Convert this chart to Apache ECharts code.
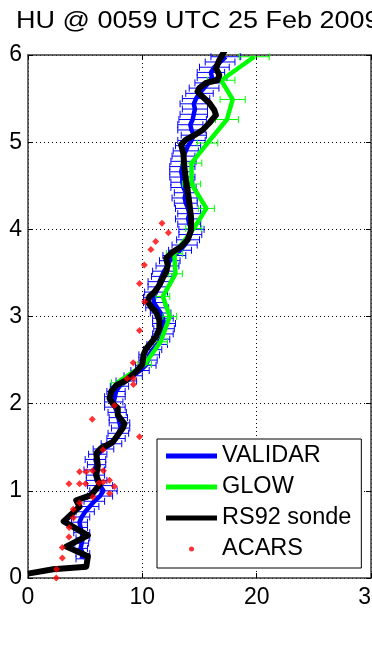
<!DOCTYPE html>
<html>
<head>
<meta charset="utf-8">
<script src="https://cdn.jsdelivr.net/npm/echarts@6/dist/echarts.min.js"></script>
<style>
  html, body { margin: 0; padding: 0; background: #fff; }
  #chart { width: 372px; height: 652px; }
</style>
</head>
<body>
<div id="chart"></div>
<script>
// Water vapour mixing ratio profiles (g/kg) against altitude (km)
const titleText = 'HU @ 0059 UTC 25 Feb 2009';
const xTickStep = 10;
const yTickStep = 1;

// VALIDAR lidar retrieval
const validarAlt = [0.22, 0.28, 0.34, 0.40, 0.46, 0.52, 0.58, 0.64, 0.70, 0.76, 0.82, 0.88, 0.94, 1.00, 1.06, 1.12,
  1.18, 1.24, 1.30, 1.36, 1.42, 1.48, 1.54, 1.60, 1.66, 1.72, 1.78, 1.84, 1.90, 1.96, 2.02, 2.08, 2.14, 2.20,
  2.26, 2.32, 2.38, 2.44, 2.50, 2.56, 2.62, 2.68, 2.74, 2.80, 2.86, 2.92, 2.98, 3.04, 3.10, 3.16, 3.22, 3.28,
  3.34, 3.40, 3.46, 3.52, 3.58, 3.64, 3.70, 3.76, 3.82, 3.88, 3.94, 4.00, 4.06, 4.12, 4.18, 4.24, 4.30, 4.36,
  4.42, 4.48, 4.54, 4.60, 4.66, 4.72, 4.78, 4.84, 4.90, 4.96, 5.02, 5.08, 5.14, 5.20, 5.26, 5.32, 5.38, 5.44,
  5.50, 5.56, 5.62, 5.68, 5.74, 5.80, 5.86, 5.92, 5.98];
const validarHum = [4.7, 4.8, 4.6, 4.7, 4.8, 4.7, 4.6, 4.5, 4.7, 5.0, 5.4, 5.8, 6.3, 6.6, 6.3, 6.0,
  5.9, 5.8, 6.0, 5.9, 6.1, 6.6, 7.3, 7.7, 7.9, 8.1, 8.0, 7.9, 7.8, 7.6, 7.5, 7.6, 7.7, 8.0,
  8.6, 9.2, 9.8, 10.3, 10.5, 10.6, 10.9, 11.3, 11.6, 11.8, 11.9, 11.9, 11.8, 11.6, 11.3, 11.0, 11.0, 11.2,
  11.4, 11.5, 11.7, 11.9, 12.2, 12.4, 12.8, 13.3, 13.7, 14.0, 14.2, 14.3, 14.1, 14.0, 14.1, 14.0, 13.8, 13.7,
  13.8, 13.6, 13.5, 13.5, 13.4, 13.5, 13.6, 13.6, 13.8, 14.0, 14.3, 14.5, 14.3, 14.2, 14.4, 14.5, 14.6, 14.5,
  14.7, 15.0, 15.4, 15.8, 16.1, 16.0, 16.3, 16.8, 17.3];
const validarErr = [0.5, 0.6, 0.6, 0.6, 0.6, 0.7, 0.6, 0.7, 0.7, 0.8, 0.8, 0.9, 1.1, 1.2, 1.1, 0.9,
  0.8, 0.9, 0.8, 0.9, 0.8, 0.9, 0.9, 0.8, 0.9, 0.8, 0.9, 0.8, 0.8, 0.9, 0.8, 0.9, 0.8, 0.8,
  0.9, 0.8, 0.8, 0.9, 0.8, 0.9, 0.8, 0.9, 0.8, 0.9, 0.9, 1.0, 0.9, 0.9, 1.0, 0.9, 0.9, 1.0,
  0.9, 1.0, 0.9, 1.0, 1.0, 0.9, 1.0, 1.0, 1.1, 1.0, 1.0, 1.1, 1.0, 1.1, 1.0, 1.1, 1.0, 1.1,
  1.0, 1.1, 1.0, 1.1, 1.0, 1.1, 1.1, 1.0, 1.1, 1.1, 1.2, 1.1, 1.2, 1.1, 1.2, 1.2, 1.1, 1.2,
  1.2, 1.2, 1.3, 1.2, 1.3, 1.2, 1.3, 1.3, 1.3];

// GLOW lidar retrieval
const glowAlt = [2.24, 2.45, 2.71, 3.00, 3.23, 3.49, 3.72, 4.01, 4.24, 4.52, 4.76, 4.99, 5.26, 5.49, 5.71, 5.98];
const glowHum = [7.8, 10.2, 11.6, 12.4, 11.8, 12.9, 12.8, 14.5, 15.6, 14.3, 14.3, 15.7, 17.4, 17.9, 16.9, 19.8];
const glowErr = [0.5, 0.6, 0.6, 0.6, 0.6, 0.6, 0.7, 0.7, 0.7, 0.8, 0.9, 0.9, 1.0, 1.1, 1.2, 1.3];

// RS92 radiosonde
const sondeHum = [0.0, 2.2, 5.1, 5.24, 3.35, 5.24, 3.12, 4.51, 4.22, 5.53, 6.26, 5.97, 6.11, 5.97, 6.40, 7.42,
  8.29, 8.44, 7.85, 7.85, 7.42, 7.13, 7.28, 7.71, 8.59, 9.46, 10.0, 10.1, 10.33, 10.77, 11.2, 11.49, 11.49,
  11.2, 10.77, 10.47, 10.62, 11.06, 11.49, 11.78, 12.08, 12.22, 12.08, 12.65, 13.39, 13.96, 14.26, 14.26,
  14.11, 13.96, 13.82, 13.67, 13.59, 13.39, 13.82, 14.55, 15.27, 15.86, 16.44, 16.29, 15.86, 15.27, 14.83,
  14.98, 15.57, 16.58, 16.73, 16.44, 16.73, 17.2];
const sondeAlt = [0.05, 0.10, 0.13, 0.25, 0.36, 0.49, 0.65, 0.82, 0.89, 0.95, 1.07, 1.18, 1.29, 1.43, 1.49, 1.56,
  1.72, 1.77, 1.87, 1.95, 2.00, 2.06, 2.14, 2.21, 2.27, 2.37, 2.45, 2.56, 2.63, 2.70, 2.77, 2.86, 2.96,
  3.05, 3.11, 3.17, 3.23, 3.28, 3.36, 3.44, 3.51, 3.59, 3.67, 3.74, 3.80, 3.88, 3.99, 4.14,
  4.30, 4.45, 4.56, 4.72, 4.87, 4.97, 5.03, 5.08, 5.14, 5.22, 5.31, 5.37, 5.45, 5.52, 5.58,
  5.62, 5.68, 5.71, 5.77, 5.85, 5.94, 6.05];

// ACARS aircraft reports
const acarsHum = [2.47, 2.5, 3.0, 3.0, 3.58, 3.6, 3.97, 3.95, 4.51, 5.67, 7.13, 7.56, 3.58, 4.51, 5.04, 6.2,
  6.6, 7.13, 4.51, 5.1, 5.64, 6.6, 6.56, 9.75, 5.62, 7.56, 9.22, 8.67, 9.22, 9.2, 9.75, 10.2, 9.75,
  10.18, 10.75, 11.17, 12.28, 11.72];
const acarsAlt = [0.00, 0.10, 0.23, 0.35, 0.47, 0.58, 0.69, 0.79, 0.86, 0.93, 0.97, 1.05, 1.08, 1.08, 1.08, 1.09,
  1.10, 1.12, 1.22, 1.22, 1.23, 1.23, 1.47, 1.62, 1.82, 1.98, 2.22, 2.29, 2.29, 2.47, 2.84, 3.17, 3.38,
  3.59, 3.77, 3.86, 3.96, 4.07];

const FONT = '"Liberation Sans", Arial, Helvetica, sans-serif';
const BLUE = '#0000ff', GREEN = '#00ff00', BLACK = '#000000', RED = '#ff0000';

const pairs = (xs, ys) => xs.map((x, i) => [x, ys[i]]);
const bars = (alt, hum, err) => alt.map((a, i) => [hum[i] - err[i], hum[i] + err[i], a]);

// horizontal error bar with end caps
function errorBar(color) {
  return function (params, api) {
    const a = api.coord([api.value(0), api.value(2)]);
    const b = api.coord([api.value(1), api.value(2)]);
    const cap = 3.5;
    const style = { stroke: color, lineWidth: 1, fill: null };
    return {
      type: 'group',
      children: [
        { type: 'line', shape: { x1: a[0], y1: a[1], x2: b[0], y2: b[1] }, style },
        { type: 'line', shape: { x1: a[0], y1: a[1] - cap, x2: a[0], y2: a[1] + cap }, style },
        { type: 'line', shape: { x1: b[0], y1: b[1] - cap, x2: b[0], y2: b[1] + cap }, style }
      ]
    };
  };
}

const axisLineStyle = { color: '#3a3a3a', width: 1.5 };
const tickStyle = { show: true, inside: true, length: 5, lineStyle: { color: '#000', width: 1 } };
const gridLineStyle = { type: [1, 3], color: '#000', width: 1 };
const labelStyle = { color: '#000', fontSize: 23, fontFamily: FONT, hideOverlap: false, showMinLabel: true, showMaxLabel: true };

const chart = echarts.init(document.getElementById('chart'), null, { renderer: 'canvas' });
chart.setOption({
  animation: false,
  backgroundColor: '#fff',
  grid: { left: 28, right: 1, top: 55, bottom: 74, containLabel: false, outerBoundsMode: 'none' },
  graphic: [{
    type: 'text', x: 16, y: 9, scaleX: 1.125, z: 100,
    style: { text: titleText, font: '24px ' + FONT, fill: '#000', verticalAlign: 'top', align: 'left' }
  }],
  xAxis: [
    {
      type: 'value', position: 'bottom', min: 0, max: 30, interval: xTickStep,
      axisLine: { show: true, onZero: false, lineStyle: axisLineStyle },
      axisTick: tickStyle,
      axisLabel: Object.assign({ margin: 8 }, labelStyle),
      splitLine: { show: true, lineStyle: gridLineStyle }
    },
    {
      type: 'value', position: 'top', min: 0, max: 30, interval: xTickStep,
      axisLine: { show: true, onZero: false, lineStyle: axisLineStyle },
      axisTick: tickStyle, axisLabel: { show: false }, splitLine: { show: false }
    }
  ],
  yAxis: [
    {
      type: 'value', position: 'left', min: 0, max: 6, interval: yTickStep,
      axisLine: { show: true, onZero: false, lineStyle: axisLineStyle },
      axisTick: tickStyle,
      axisLabel: Object.assign({ margin: 6 }, labelStyle),
      splitLine: { show: true, lineStyle: gridLineStyle }
    },
    {
      type: 'value', position: 'right', min: 0, max: 6, interval: yTickStep,
      axisLine: { show: true, onZero: false, lineStyle: axisLineStyle },
      axisTick: tickStyle, axisLabel: { show: false }, splitLine: { show: false }
    }
  ],
  legend: {
    orient: 'vertical', left: 157, top: 439,
    data: [
      { name: 'VALIDAR', icon: 'rect' },
      { name: 'GLOW', icon: 'rect' },
      { name: 'RS92 sonde', icon: 'rect' },
      { name: 'ACARS', icon: 'circle' }
    ],
    itemWidth: 51, itemHeight: 5, itemGap: 7,
    padding: [5, 10, 7, 9],
    backgroundColor: '#fff', borderColor: '#000', borderWidth: 1, borderRadius: 0,
    textStyle: { fontSize: 23.5, fontFamily: FONT, color: '#000', lineHeight: 24 },
    selectedMode: false
  },
  series: [
    {
      name: 'VALIDAR error', type: 'custom', renderItem: errorBar(BLUE),
      data: bars(validarAlt, validarHum, validarErr), encode: { x: [0, 1], y: 2 }, z: 2, silent: true
    },
    {
      name: 'VALIDAR', type: 'line', data: pairs(validarHum, validarAlt), showSymbol: false,
      lineStyle: { color: BLUE, width: 4.5 }, itemStyle: { color: BLUE }, z: 3
    },
    {
      name: 'GLOW error', type: 'custom', renderItem: errorBar(GREEN),
      data: bars(glowAlt, glowHum, glowErr), encode: { x: [0, 1], y: 2 }, z: 4, silent: true
    },
    {
      name: 'GLOW', type: 'line', data: pairs(glowHum, glowAlt), showSymbol: false,
      lineStyle: { color: GREEN, width: 4.5 }, itemStyle: { color: GREEN }, z: 5
    },
    {
      name: 'RS92 sonde', type: 'line', data: pairs(sondeHum, sondeAlt), showSymbol: false,
      lineStyle: { color: BLACK, width: 6, join: 'round' }, itemStyle: { color: BLACK }, z: 6
    },
    {
      name: 'ACARS', type: 'scatter', data: pairs(acarsHum, acarsAlt),
      symbol: 'diamond', symbolSize: 7, itemStyle: { color: RED }, z: 7
    }
  ]
});
</script>
</body>
</html>
